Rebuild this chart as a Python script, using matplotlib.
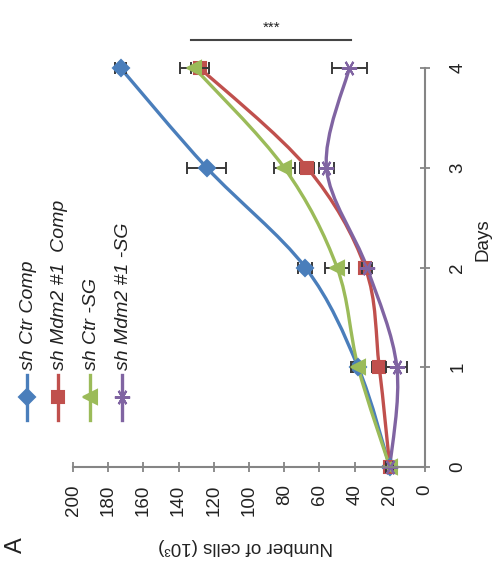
import numpy as np
import matplotlib
matplotlib.use("Agg")
import matplotlib.pyplot as plt
from matplotlib.path import Path
from matplotlib.patches import PathPatch
from matplotlib.lines import Line2D

plt.rcParams['font.family'] = ['Liberation Sans', 'DejaVu Sans']

# data (cells x 10^3 per day)
days = [0, 1, 2, 3, 4]
labels = ['sh Ctr Comp', 'sh Mdm2 #1  Comp', 'sh Ctr -SG', 'sh Mdm2 #1 -SG']
ctr_comp = [20, 38, 68, 124, 173]
mdm2_comp = [20, 26, 34, 67, 128]
ctr_sg = [20, 38, 50, 80, 131]
mdm2_sg = [20, 16, 33, 56, 43]
err_ctr_comp = [2, 3, 4, 11, 3]
err_mdm2_comp = [2, 4, 3, 4, 5]
err_ctr_sg = [2, 4, 7, 6, 8]
err_mdm2_sg = [2, 6, 3, 4, 10]

series = [ctr_comp, mdm2_comp, ctr_sg, mdm2_sg]
errors = [err_ctr_comp, err_mdm2_comp, err_ctr_sg, err_mdm2_sg]
colors = ['#4A7EBB', '#C0504D', '#9BBB59', '#8064A2']
markers = ['D', 's', '<', (6, 2, 90)]
msizes = [8.5, 8.5, 9.5, 11]

axis_gray = '#858585'


def smooth_path(xs, ys):
    # Catmull-Rom segments turned into cubic bezier, like Excel smoothed lines
    pts = np.column_stack([xs, ys]).astype(float)
    n = len(pts)
    verts = [pts[0]]
    codes = [Path.MOVETO]
    for i in range(n - 1):
        p0 = pts[max(i - 1, 0)]
        p1 = pts[i]
        p2 = pts[i + 1]
        p3 = pts[min(i + 2, n - 1)]
        c1 = p1 + (p2 - p0) / 6.0
        c2 = p2 - (p3 - p1) / 6.0
        verts += [c1, c2, p2]
        codes += [Path.CURVE4] * 3
    return Path(verts, codes)


fig = plt.figure(figsize=(4.94, 5.63), dpi=100)
ax = fig.add_axes([0.1478, 0.1705, 0.7126, 0.7087])

for vals, errs, c, m, ms in zip(series, errors, colors, markers, msizes):
    ax.add_patch(PathPatch(smooth_path(vals, days), fill=False, edgecolor=c,
                           lw=2.4, clip_on=False, capstyle='round'))
    ax.errorbar(vals, days, xerr=errs, fmt='none', ecolor='#3a3a3a',
                elinewidth=1.4, capsize=4, capthick=1.4, clip_on=False)
    ax.plot(vals, days, linestyle='none', marker=m, markersize=ms, color=c,
            markeredgecolor=c, markeredgewidth=1.5, clip_on=False)

ax.set_xlim(200, 0)
ax.set_ylim(0, 4)

for s in ['top', 'left']:
    ax.spines[s].set_visible(False)
for s in ['bottom', 'right']:
    ax.spines[s].set_color(axis_gray)
    ax.spines[s].set_linewidth(1.5)

ax.set_xticks(np.arange(0, 201, 20))
ax.set_yticks(days)
ax.yaxis.tick_right()
ax.tick_params(axis='both', direction='inout', length=7, width=1.3,
               color=axis_gray, labelsize=13.5, labelcolor='#222222')
ax.tick_params(axis='x', labelrotation=90, pad=9)
ax.tick_params(axis='y', labelrotation=90, pad=14)
for t in ax.get_yticklabels():
    t.set_va('center')

ax.set_xlabel('Number of cells (10\u00b3)', rotation=180, fontsize=13.5,
              color='#222222', ha='center', va='center')
ax.xaxis.set_label_coords(0.49, -0.2)
ax.yaxis.set_label_position('right')
ax.set_ylabel('Days', rotation=90, fontsize=13.5, color='#222222',
              ha='center', va='center')
ax.yaxis.set_label_coords(1.165, 0.57)

# significance bracket
ax.plot([133, 42], [4.28, 4.28], color='#444444', lw=1.5, clip_on=False)
ax.text(87, 4.40, '***', ha='center', va='center', fontsize=11,
        color='#222222', clip_on=False)

# legend drawn sideways
leg_x = [27, 58, 90, 122]
for xp, lab, c, m, ms in zip(leg_x, labels, colors, markers, msizes):
    fx = xp / 494
    fig.add_artist(Line2D([fx, fx], [1 - 420 / 563, 1 - 375 / 563],
                          transform=fig.transFigure, color=c, lw=2.4))
    fig.add_artist(Line2D([fx], [1 - 397 / 563], transform=fig.transFigure,
                          marker=m, markersize=ms, color=c, markeredgecolor=c,
                          markeredgewidth=1.5, linestyle='none'))
    fig.text(fx + 0.003, 1 - 370 / 563, lab, rotation=90, ha='center',
             va='bottom', fontsize=14, style='italic', color='#222222')

fig.text(16 / 494, 1 - 545 / 563, 'A', rotation=90, ha='center', va='center',
         fontsize=17, color='#222222')

fig.savefig('out.png', dpi=100)
